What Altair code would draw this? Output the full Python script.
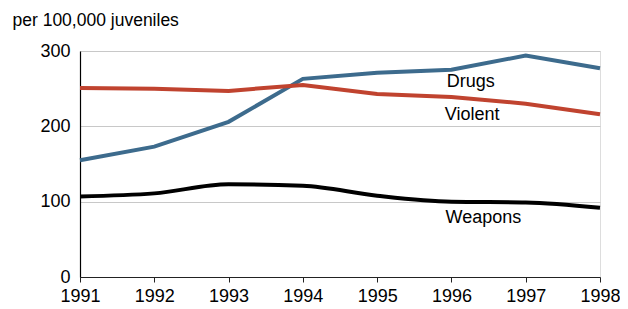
import altair as alt
import pandas as pd

years = [1991, 1992, 1993, 1994, 1995, 1996, 1997, 1998]
drugs = [155, 173, 206, 263, 271, 275, 294, 277]
violent = [251, 250, 247, 255, 243, 239, 230, 216]
weapons = [107, 111, 123, 121, 108, 100, 99, 92]

label_text = ["Drugs", "Violent", "Weapons"]
label_year = [1996.26, 1996.28, 1996.43]
label_value = [259, 215, 78]

FONT = "Liberation Sans"

def series(vals, name):
    return pd.DataFrame({"year": years, "value": vals, "series": name})

x = alt.X("year:Q", scale=alt.Scale(domain=[1991, 1998], nice=False, zero=False),
          axis=alt.Axis(values=years, format="d", grid=False, tickSize=5, tickColor="#222",
                        domainColor="#222", domainWidth=1.2, labelFontSize=18, labelFont=FONT,
                        labelColor="#000", labelPadding=5, title=None, labelFlush=False))
y = alt.Y("value:Q", scale=alt.Scale(domain=[0, 300], nice=False),
          axis=alt.Axis(values=[0, 100, 200, 300], grid=True, gridColor="#c8c8c8", gridWidth=1.2,
                        ticks=False, domainColor="#000", domainWidth=1.2, labelFontSize=18,
                        labelFont=FONT, labelColor="#000", labelPadding=10,
                        title="per 100,000 juveniles", titleAngle=0, titleX=-68, titleY=-26,
                        titleAlign="left", titleBaseline="alphabetic", titleFont=FONT,
                        titleFontSize=17.5, titleFontWeight="normal", titleColor="#000"))

base_x = alt.X("year:Q", scale=alt.Scale(domain=[1991, 1998], nice=False, zero=False))
base_y = alt.Y("value:Q", scale=alt.Scale(domain=[0, 300], nice=False))

axes = alt.Chart(series(drugs, "Drugs")).mark_line(opacity=0).encode(x=x, y=y)

l_drugs = alt.Chart(series(drugs, "Drugs")).mark_line(color="#3d6b8d", strokeWidth=4).encode(x=base_x, y=base_y)
l_violent = alt.Chart(series(violent, "Violent")).mark_line(color="#c0432f", strokeWidth=4).encode(x=base_x, y=base_y)
l_weapons = alt.Chart(series(weapons, "Weapons")).mark_line(color="#000000", strokeWidth=4, interpolate="monotone").encode(x=base_x, y=base_y)

labels = pd.DataFrame({"text": label_text, "year": label_year, "value": label_value})
t = alt.Chart(labels).mark_text(font=FONT, fontSize=18, color="#000", align="center", baseline="middle").encode(
    x=base_x, y=base_y, text="text:N")

chart = alt.layer(axes, l_drugs, l_violent, l_weapons, t).properties(
    width=520, height=226,
    autosize=alt.AutoSizeParams(type="none"),
    padding={"left": 72, "top": 43, "right": 20, "bottom": 31},
).configure_view(stroke=None).configure(background="white")

chart.save("out.html", embed_options={"renderer": "svg", "actions": False})
